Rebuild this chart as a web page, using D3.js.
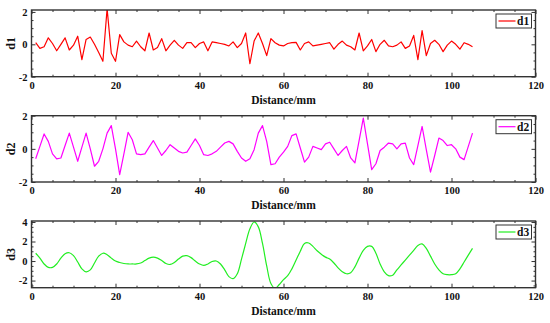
<!DOCTYPE html>
<html>
<head>
<meta charset="utf-8">
<script src="https://cdn.jsdelivr.net/npm/d3@7"></script>
<style>
  body { margin: 0; background: #fff; }
  text { font-family: "Liberation Serif", "Times New Roman", serif; font-weight: bold; fill: #111; }
</style>
</head>
<body>
<div id="chart"></div>
<script>
const W = 550, H = 323;

// x positions (mm) of the samples
const distance = d3.range(1, 106);

const d1Values = [
  0.1, -0.25, -0.15, 0.4, 0.05, -0.4, 0.0, 0.4, -0.35, -0.05,
  0.5, -0.95, 0.3, 0.45, 0.0, -0.5, -1.05, 2.2, -0.55, -1.05,
  0.6, 0.15, -0.05, -0.15, 0.2, -0.15, -0.4, 0.7, -0.35, -0.2,
  0.35, -0.4, -0.05, 0.25, -0.05, -0.25, 0.1, 0.1, -0.2, 0.05,
  0.15, -0.4, 0.15, 0.1, 0.05, 0.0, -0.1, 0.15, -0.2, 0.05,
  0.7, -1.2, 0.2, 0.7, 0.05, -0.7, 0.35, 0.1, -0.05, -0.1,
  0.05, 0.1, 0.12, -0.35, 0.05, 0.15, -0.1, -0.05, 0.0, 0.05,
  0.1, -0.3, 0.0, 0.2, -0.05, -0.15, -0.35, 0.7, -0.4, -0.1,
  0.3, -0.45, 0.0, 0.25, -0.1, -0.15, -0.05, 0.15, -0.25, -0.1,
  0.55, -0.95, 0.85, -0.7, 0.05, 0.25, 0.0, -0.45, -0.05, 0.2,
  0.0, -0.3, 0.1, 0.0, -0.15
];

const d2Values = [
  -0.6, 0.15, 0.9, 0.45, -0.3, -0.6, -0.55, 0.2, 0.95, 0.1,
  -0.75, 0.1, 0.95, 0.0, -1.05, -0.75, 0.0, 0.95, 1.4, 0.0,
  -1.55, -0.3, 1.0, 0.55, -0.3, -0.35, -0.3, 0.1, 0.5, 0.05,
  -0.4, -0.1, 0.25, 0.05, -0.15, -0.25, -0.2, 0.2, 0.6, 0.2,
  -0.35, -0.4, -0.3, -0.15, 0.1, 0.35, 0.45, 0.3, -0.15, -0.55,
  -0.75, -0.6, -0.05, 0.95, 1.4, 0.45, -0.95, -0.9, -0.5, -0.2,
  0.15, 0.8, 0.9, 0.05, -0.8, -0.5, 0.15, 0.05, -0.05, 0.3,
  0.4, 0.0, -0.4, -0.1, 0.15, -0.55, -0.85, 0.5, 1.85, 0.3,
  -1.25, -0.9, -0.1, 0.1, 0.35, 0.3, 0.0, 0.3, 0.35, -0.55,
  -0.95, 0.2, 1.35, -0.05, -1.4, -0.4, 0.65, 0.5, 0.2, 0.25,
  0.0, -0.5, -0.65, 0.15, 0.95
];

const d3Values = [
  0.8, 0.3, -0.3, -0.65, -0.65, -0.3, 0.3, 0.75, 0.85, 0.55,
  -0.1, -0.8, -1.1, -0.9, -0.2, 0.5, 0.8, 0.65, 0.3, 0.0,
  -0.15, -0.25, -0.3, -0.3, -0.3, -0.2, 0.05, 0.3, 0.4, 0.3,
  0.05, -0.25, -0.35, -0.15, 0.2, 0.5, 0.55, 0.35, 0.0, -0.3,
  -0.45, -0.3, -0.05, 0.0, -0.3, -0.9, -1.6, -1.8, -1.3, 0.2,
  1.8, 3.3, 4.0, 3.5, 1.8, -0.5, -2.3, -2.8, -2.4, -1.9,
  -1.5, -0.8, 0.1, 1.0, 1.8, 1.85, 1.5, 1.05, 0.7, 0.4,
  0.2, -0.2, -0.7, -1.1, -1.3, -1.2, -0.6, 0.3, 1.1, 1.5,
  1.5, 0.8, -0.3, -1.1, -1.5, -1.45, -0.9, -0.4, 0.1, 0.6,
  1.1, 1.6, 1.75, 1.3, 0.5, -0.3, -0.9, -1.3, -1.4, -1.4,
  -1.3, -0.8, -0.1, 0.6, 1.3
];

const seriesNames = ["d1", "d2", "d3"];
const seriesColors = ["#ff0000", "#ff00ff", "#22ee22"];
const xTicks = [0, 20, 40, 60, 80, 100, 120];
const yTicks = [-2, 0, 2, 4];
const xLabel = "Distance/mm";

// panel boxes and y ranges
const panels = [
  { values: d1Values, top: 10,    bottom: 76.7,  domain: [-2, 2.12], curve: d3.curveLinear },
  { values: d2Values, top: 115.7, bottom: 182,   domain: [-2, 2],    curve: d3.curveLinear },
  { values: d3Values, top: 221,   bottom: 287.7, domain: [-2.73, 4.1], curve: d3.curveCatmullRom }
];

const left = 31.5, right = 535.5;

const svg = d3.select("#chart").append("svg")
  .attr("width", W)
  .attr("height", H);

const x = d3.scaleLinear().domain([0, 120]).range([left, right]);
const plain = d => String(d);   // hyphen minus like the original, no decimals

panels.forEach((p, i) => {
  const y = d3.scaleLinear().domain(p.domain).range([p.bottom, p.top]);
  const g = svg.append("g");
  const clipId = "clip" + i;

  g.append("clipPath").attr("id", clipId)
    .append("rect")
    .attr("x", left).attr("y", p.top)
    .attr("width", right - left).attr("height", p.bottom - p.top);

  // line
  const line = d3.line()
    .x((d, j) => x(distance[j]))
    .y(d => y(d))
    .curve(p.curve);

  g.append("path")
    .datum(p.values)
    .attr("clip-path", `url(#${clipId})`)
    .attr("fill", "none")
    .attr("stroke", seriesColors[i])
    .attr("stroke-width", 1.2)
    .attr("stroke-linejoin", "round")
    .attr("d", line);

  // axes: majors + minors, all ticks pointing inward
  const yMajor = yTicks.filter(t => t >= p.domain[0] - 1e-6 && t <= p.domain[1] + 1e-6);
  const yMinor = d3.range(Math.ceil(p.domain[0] * 2) / 2, p.domain[1] + 1e-6, 0.5)
    .filter(t => !yMajor.includes(t));
  const xMinor = d3.range(0, 121, 5).filter(t => !xTicks.includes(t));

  const axes = [
    [d3.axisBottom(x).tickValues(xTicks).tickSize(-4).tickPadding(5).tickFormat(plain), `translate(0,${p.bottom})`, true],
    [d3.axisBottom(x).tickValues(xMinor).tickSize(-2).tickFormat(""), `translate(0,${p.bottom})`, false],
    [d3.axisTop(x).tickValues(xTicks).tickSize(-4).tickFormat(""), `translate(0,${p.top})`, false],
    [d3.axisTop(x).tickValues(xMinor).tickSize(-2).tickFormat(""), `translate(0,${p.top})`, false],
    [d3.axisLeft(y).tickValues(yMajor).tickSize(-4).tickPadding(4).tickFormat(plain), `translate(${left},0)`, true],
    [d3.axisLeft(y).tickValues(yMinor).tickSize(-2).tickFormat(""), `translate(${left},0)`, false],
    [d3.axisRight(y).tickValues(yMajor).tickSize(-4).tickFormat(""), `translate(${right},0)`, false],
    [d3.axisRight(y).tickValues(yMinor).tickSize(-2).tickFormat(""), `translate(${right},0)`, false]
  ];

  axes.forEach(([ax, tr, labels]) => {
    const a = g.append("g").attr("transform", tr).call(ax);
    a.select(".domain").remove();
    a.selectAll("line").attr("stroke", "#333").attr("stroke-width", 1);
    a.selectAll("text")
      .attr("font-family", null)
      .attr("font-size", null)
      .style("font-size", "10.5px")
      .style("fill", "#111");
    if (!labels) a.selectAll("text").remove();
  });

  // frame
  g.append("rect")
    .attr("x", left).attr("y", p.top)
    .attr("width", right - left).attr("height", p.bottom - p.top)
    .attr("fill", "none")
    .attr("stroke", "#333")
    .attr("stroke-width", 1.4);

  // y label
  g.append("text")
    .attr("transform", `translate(15,${(p.top + p.bottom) / 2}) rotate(-90)`)
    .attr("text-anchor", "middle")
    .style("font-size", "12px")
    .text(seriesNames[i]);

  // x label
  g.append("text")
    .attr("x", (left + right) / 2)
    .attr("y", p.bottom + 27)
    .attr("text-anchor", "middle")
    .style("font-size", "11.5px")
    .text(xLabel);

  // legend
  const lg = g.append("g").attr("transform", `translate(496,${p.top + 4})`);
  lg.append("rect")
    .attr("width", 35.5).attr("height", 14)
    .attr("fill", "#fff")
    .attr("stroke", "#333")
    .attr("stroke-width", 1);
  lg.append("line")
    .attr("x1", 2.5).attr("x2", 19.5)
    .attr("y1", 7).attr("y2", 7)
    .attr("stroke", seriesColors[i])
    .attr("stroke-width", 1.2);
  lg.append("text")
    .attr("x", 21).attr("y", 11)
    .style("font-size", "11.5px")
    .text(seriesNames[i]);
});
</script>
</body>
</html>
